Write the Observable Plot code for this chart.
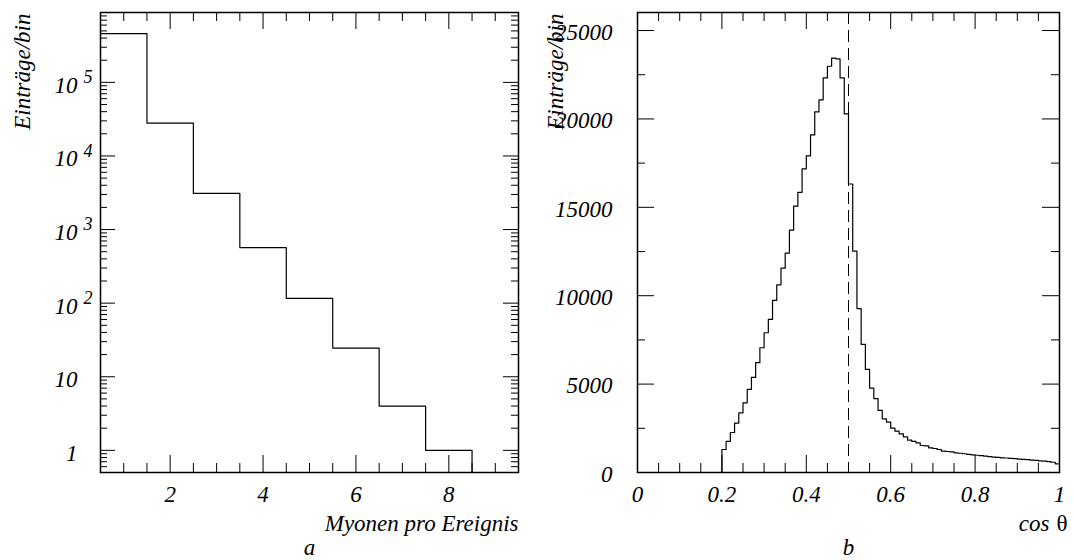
<!DOCTYPE html>
<html><head><meta charset="utf-8">
<script src="https://cdn.jsdelivr.net/npm/d3@7"></script>
<script src="https://cdn.jsdelivr.net/npm/@observablehq/plot@0.6"></script>
<style>
body{margin:0;background:#fff;}
#wrap{display:flex;width:1074px;height:560px;overflow:hidden;}
</style></head><body><div id="wrap"></div>
<script>
// ---- Panel a: muons per event (log scale) ----
const muonCounts = [1, 2, 3, 4, 5, 6, 7, 8];
const muonEntries = [460000, 28000, 3100, 570, 116, 24.5, 4, 1];
const muonXTickValues = [2, 4, 6, 8];
const logTickValues = [1, 10, 100, 1000, 10000, 100000];
const logTickBase = ["1", "10", "10", "10", "10", "10"];
const logTickExp = ["", "", "2", "3", "4", "5"];

// ---- Panel b: cos theta distribution (bins of 0.01 from 0.20 to 1.00) ----
const cosBinStart = 0.2;
const cosBinWidth = 0.01;
const cosEntries = [
  1302, 1765, 2264, 2790, 3378, 3944, 4699, 5380, 6215, 7057,
  7906, 8661, 9740, 10615, 11560, 12410, 13715, 15065, 15850, 17170,
  17905, 19094, 20396, 21075, 22320, 22981, 23434, 23396, 22320, 20283,
  16320, 12520, 9275, 7246, 5831, 4775, 4180, 3510, 3030, 2850,
  2510, 2340, 2189, 2019, 1830, 1755, 1679, 1528, 1510, 1396,
  1359, 1302, 1208, 1189, 1170, 1113, 1090, 1060, 1030, 1000,
  975, 950, 930, 900, 870, 850, 830, 820, 800, 790,
  760, 740, 730, 700, 690, 660, 640, 620, 580, 490
];
const cosXTickValues = [0, 0.2, 0.4, 0.6, 0.8, 1];
const cosXTickLabels = ["0", "0.2", "0.4", "0.6", "0.8", "1"];
const cosYTickValues = [0, 5000, 10000, 15000, 20000, 25000];
const cutValue = 0.5;

const yLabel = "Einträge/bin";
const xLabelA = "Myonen pro Ereignis";
const xLabelBParts = ["cos", "θ"];

const serif = "Liberation Serif";
const W = 537, H = 560, MT = 12, MB = 88, ML = 100;
const FH = H - MT - MB;
const FS = 23;

function xTickMarks(vals, len) {
  return [
    Plot.tickX(vals, {x: d => d, insetTop: FH - len, stroke: "black", strokeWidth: 1}),
    Plot.tickX(vals, {x: d => d, insetBottom: FH - len, stroke: "black", strokeWidth: 1})
  ];
}
function yTickMarks(vals, len, FW) {
  return [
    Plot.tickY(vals, {y: d => d, insetRight: FW - len, stroke: "black", strokeWidth: 1}),
    Plot.tickY(vals, {y: d => d, insetLeft: FW - len, stroke: "black", strokeWidth: 1})
  ];
}
const txt = {fontFamily: serif, fontStyle: "italic", fill: "black"};
const svgStyle = "font-family: 'Liberation Serif'; background: white; overflow: visible;";

// ---------- Panel a ----------
{
  const MR = 19, FW = W - ML - MR;
  const minorX = d3.range(1, 9.01, 0.5).filter(v => !muonXTickValues.includes(v));
  const minorY = [];
  for (let e = -1; e <= 5; e++) for (let m = 2; m <= 9; m++) {
    const v = m * Math.pow(10, e);
    if (v > 0.5 && v < 8.9e5) minorY.push(v);
  }
  const pts = muonCounts.map((c, i) => ({x: c - 0.5, y: muonEntries[i]}));
  pts.push({x: muonCounts[muonCounts.length - 1] + 0.5, y: muonEntries[muonEntries.length - 1]});
  pts.push({x: muonCounts[muonCounts.length - 1] + 0.5, y: 0.1});
  const expIdx = logTickValues.map((v, i) => i).filter(i => logTickExp[i] !== "");

  const chart = Plot.plot({
    width: W, height: H, marginLeft: ML, marginRight: MR, marginTop: MT, marginBottom: MB,
    style: svgStyle,
    x: {domain: [0.5, 9.5], axis: null},
    y: {type: "log", domain: [0.5, 8.9e5], axis: null},
    marks: [
      ...xTickMarks(minorX, 9),
      ...xTickMarks(muonXTickValues, 17),
      ...yTickMarks(minorY, 7, FW),
      ...yTickMarks(logTickValues, 15, FW),
      Plot.line(pts, {x: "x", y: "y", curve: "step-after", stroke: "black", strokeWidth: 1.2, clip: true}),
      Plot.frame({stroke: "black", strokeWidth: 1.5}),
      Plot.text(muonXTickValues, {...txt, x: d => d, frameAnchor: "bottom", dy: 22, text: d => String(d), fontSize: FS, lineAnchor: "middle"}),
      Plot.text(logTickValues, {...txt, y: d => d, frameAnchor: "left", dx: -23, dy: 3, textAnchor: "end", lineAnchor: "middle", text: (d, i) => logTickBase[i], fontSize: FS}),
      Plot.text(expIdx, {...txt, y: i => logTickValues[i], frameAnchor: "left", dx: -17, dy: -5, textAnchor: "start", lineAnchor: "middle", text: i => logTickExp[i], fontSize: 18}),
      Plot.text([yLabel], {...txt, frameAnchor: "top-left", dx: -78, dy: 1, rotate: -90, textAnchor: "end", lineAnchor: "middle", fontSize: FS}),
      Plot.text([xLabelA], {...txt, frameAnchor: "bottom-right", dy: 51, textAnchor: "end", lineAnchor: "middle", fontSize: FS}),
      Plot.text(["a"], {...txt, frameAnchor: "bottom", dy: 75, lineAnchor: "middle", fontSize: FS})
    ]
  });
  document.getElementById("wrap").appendChild(chart);
}

// ---------- Panel b ----------
{
  const MR = 15, FW = W - ML - MR;
  const minorX = d3.range(0.05, 1, 0.05).filter(v => !cosXTickValues.some(t => Math.abs(t - v) < 1e-9));
  const minorY = [2500, 7500, 12500, 17500, 22500];
  const pts = [{x: 0, y: 0}];
  cosEntries.forEach((v, i) => pts.push({x: cosBinStart + i * cosBinWidth, y: v}));
  pts.push({x: cosBinStart + cosEntries.length * cosBinWidth, y: cosEntries[cosEntries.length - 1]});

  const chart = Plot.plot({
    width: W, height: H, marginLeft: ML, marginRight: MR, marginTop: MT, marginBottom: MB,
    style: svgStyle,
    x: {domain: [0, 1], axis: null},
    y: {domain: [0, 26020], axis: null},
    marks: [
      ...xTickMarks(minorX, 9),
      ...xTickMarks(cosXTickValues, 17),
      ...yTickMarks(minorY, 8, FW),
      ...yTickMarks(cosYTickValues, 17, FW),
      Plot.ruleX([cutValue], {stroke: "black", strokeWidth: 1, strokeDasharray: "12,6"}),
      Plot.line(pts, {x: "x", y: "y", curve: "step-after", stroke: "black", strokeWidth: 1.2, clip: true}),
      Plot.frame({stroke: "black", strokeWidth: 1.5}),
      Plot.text(cosXTickValues, {...txt, x: d => d, frameAnchor: "bottom", dy: 22, text: (d, i) => cosXTickLabels[i], fontSize: FS, lineAnchor: "middle"}),
      Plot.text(cosYTickValues, {...txt, y: d => d, frameAnchor: "left", dx: -25, dy: 2, textAnchor: "end", lineAnchor: "middle", text: d => String(d), fontSize: FS}),
      Plot.text([yLabel], {...txt, frameAnchor: "top-left", dx: -82, dy: 1, rotate: -90, textAnchor: "end", lineAnchor: "middle", fontSize: FS}),
      Plot.text([xLabelBParts[0]], {...txt, frameAnchor: "bottom-right", dx: -10, dy: 51, textAnchor: "end", lineAnchor: "middle", fontSize: FS}),
      Plot.text([xLabelBParts[1]], {...txt, fontStyle: "normal", frameAnchor: "bottom-right", dx: 8, dy: 51, textAnchor: "end", lineAnchor: "middle", fontSize: FS}),
      Plot.text(["b"], {...txt, frameAnchor: "bottom", dy: 75, lineAnchor: "middle", fontSize: FS})
    ]
  });
  document.getElementById("wrap").appendChild(chart);
}
</script>
</body></html>
